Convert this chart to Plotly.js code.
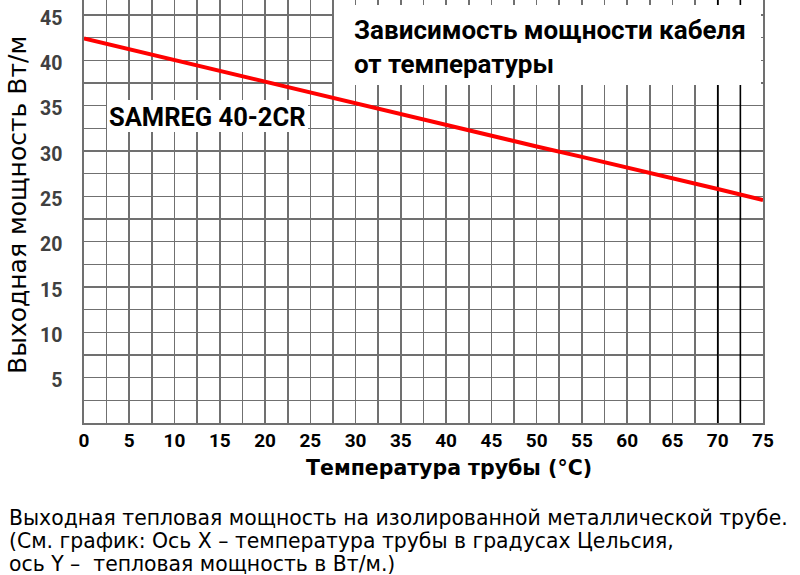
<!DOCTYPE html>
<html>
<head>
<meta charset="utf-8">
<script src="https://cdn.plot.ly/plotly-3.0.1.min.js"></script>
<style>html,body{margin:0;padding:0;background:#fff;}#chart{width:800px;height:575px;}</style>
</head>
<body>
<div id="chart"></div>
<script>
// Data
const temperature = [0, 5, 10, 15, 20, 25, 30, 35, 40, 45, 50, 55, 60, 65, 70, 75];
const power = [42.4, 41.2, 40.05, 38.9, 37.7, 36.5, 35.3, 34.0, 32.8, 31.65, 30.5, 29.35, 28.2, 27.0, 25.8, 24.6];
const xTickValues = [0, 5, 10, 15, 20, 25, 30, 35, 40, 45, 50, 55, 60, 65, 70, 75];
const xTickLabels = ['0', '5', '10', '15', '20', '25', '30', '35', '40', '45', '50', '55', '60', '65', '70', '75'];
const yTickValues = [5, 10, 15, 20, 25, 30, 35, 40, 45];
const yTickLabels = ['5', '10', '15', '20', '25', '30', '35', '40', '45'];
const darkGridX = [70, 72.5];
const yMax = 46.65;
const chartTitle = 'Зависимость мощности кабеля<br>от температуры';
const modelLabel = 'SAMREG 40-2CR';
const xTitle = 'Температура трубы (°C)';
const yTitle = 'Выходная мощность Вт/м';
const captionLines = [
  'Выходная тепловая мощность на изолированной металлической трубе.',
  '(См. график: Ось X – температура трубы в градусах Цельсия,',
  'ось Y –  тепловая мощность в Вт/м.)'
];

const gridColor = '#707070';
const labelFont = 'Roboto, "Open Sans", sans-serif';
const textFont = '"DejaVu Sans", sans-serif';

// white boxes behind the text labels
const shapes = [
  {type: 'rect', xref: 'paper', yref: 'paper', x0: (334-84)/679, x1: (761-84)/679, y0: 1-85/423, y1: 1-5/423, fillcolor: '#fff', line: {width: 0}, layer: 'above'},
  {type: 'rect', xref: 'paper', yref: 'paper', x0: (107-84)/679, x1: (308-84)/679, y0: 1-132/423, y1: 1-100/423, fillcolor: '#fff', line: {width: 0}, layer: 'above'}
];

const annotations = [
  {xref: 'paper', yref: 'paper', x: (352-84)/679, y: 1-13/423, xanchor: 'left', yanchor: 'top', align: 'left',
   text: '<b>' + chartTitle + '</b>', showarrow: false, font: {family: labelFont, size: 26, color: '#000'}},
  {xref: 'paper', yref: 'paper', x: (207-84)/679, y: 1-117/423, xanchor: 'center', yanchor: 'middle',
   text: '<b>' + modelLabel + '</b>', showarrow: false, font: {family: labelFont, size: 25.5, color: '#000'}},
  {xref: 'paper', yref: 'paper', x: (449-84)/679, y: -(468-423)/423, xanchor: 'center', yanchor: 'middle',
   text: '<b>' + xTitle + '</b>', showarrow: false, font: {family: textFont, size: 20.5, color: '#000'}},
  {xref: 'paper', yref: 'paper', x: (18-84)/679, y: 1-205/423, xanchor: 'center', yanchor: 'middle', textangle: -90,
   text: yTitle, showarrow: false, font: {family: textFont, size: 25, color: '#000'}}
];
captionLines.forEach((t, i) => {
  annotations.push({xref: 'paper', yref: 'paper', x: (7-84)/679, y: -(518 + 23*i - 423)/423, xanchor: 'left', yanchor: 'middle',
    text: t, showarrow: false, font: {family: textFont, size: 20.4, color: '#000'}});
});

const darkLines = darkGridX.map(v => ({
  x: [v, v], y: [0, yMax], type: 'scatter', mode: 'lines',
  line: {color: '#000', width: 1.6}, hoverinfo: 'skip', cliponaxis: false
}));

const trace = {
  x: temperature, y: power, type: 'scatter', mode: 'lines',
  line: {color: '#ff0000', width: 4}, hoverinfo: 'skip'
};

const layout = {
  width: 800, height: 575,
  margin: {l: 84, r: 37, t: 0, b: 152},
  paper_bgcolor: '#fff', plot_bgcolor: '#fff',
  showlegend: false,
  xaxis: {
    range: [0, 75], tickmode: 'array', tickvals: xTickValues, ticktext: xTickLabels,
    showgrid: true, gridcolor: gridColor, gridwidth: 1.6, zeroline: false,
    showline: true, linecolor: gridColor, linewidth: 1.6,
    minor: {dtick: 2.5, tick0: 0, showgrid: true, gridcolor: gridColor, gridwidth: 1.6},
    ticks: '', ticklabelstandoff: 0,
    tickfont: {family: labelFont, size: 19, color: '#000', weight: 'bold'},
    fixedrange: true
  },
  yaxis: {
    range: [0, yMax], tickmode: 'array', tickvals: yTickValues, ticktext: yTickLabels,
    showgrid: true, gridcolor: gridColor, gridwidth: 1.6, zeroline: false,
    showline: true, mirror: true, linecolor: gridColor, linewidth: 1.6,
    minor: {dtick: 2.5, tick0: 0, showgrid: true, gridcolor: gridColor, gridwidth: 1.6},
    ticks: '', ticklabelstandoff: 16, ticklabelshift: 3,
    tickfont: {family: labelFont, size: 19.5, color: '#404040', weight: 'bold'},
    fixedrange: true
  },
  shapes: shapes,
  annotations: annotations
};

Plotly.newPlot('chart', darkLines.concat([trace]), layout, {displayModeBar: false, staticPlot: true});
</script>
</body>
</html>
